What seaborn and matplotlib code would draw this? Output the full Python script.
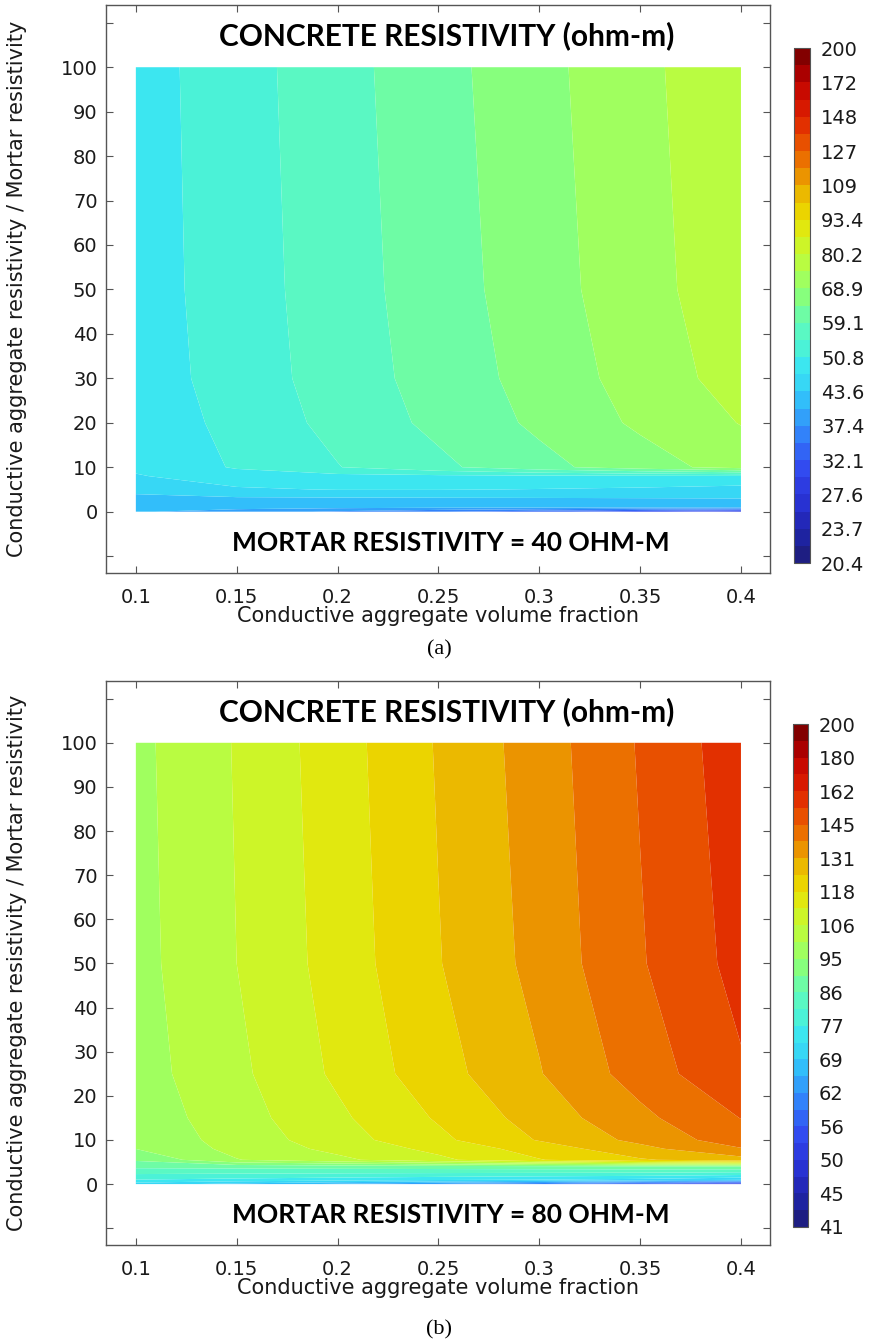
import numpy as np
import matplotlib
matplotlib.use("Agg")
import matplotlib.pyplot as plt
import seaborn as sns

# x axis: conductive aggregate volume fraction
vol_frac = [0.1, 0.15, 0.2, 0.25, 0.3, 0.35, 0.4]

# panel (a): mortar resistivity = 40 ohm-m
ratio_a = [0, 1, 3, 5, 8, 10, 20, 30, 50, 100]
rho_a = [
    [40.8, 39.0, 37.0, 35.0, 33.0, 30.5, 28.0],
    [41.8, 41.6, 41.4, 41.2, 41.1, 41.0, 41.0],
    [43.0, 43.2, 43.3, 43.4, 43.5, 43.6, 43.7],
    [44.4, 46.6, 47.3, 47.3, 47.0, 46.6, 45.8],
    [46.8, 49.3, 49.6, 49.9, 50.1, 50.2, 50.35],
    [47.9, 51.2, 54.7, 58.2, 62.4, 66.6, 71.1],
    [48.3, 52.0, 56.1, 60.3, 64.8, 69.8, 74.6],
    [48.7, 52.6, 56.7, 61.1, 65.7, 71.1, 76.8],
    [49.0, 52.8, 57.1, 61.6, 66.6, 72.2, 78.1],
    [49.1, 53.1, 57.5, 62.2, 67.3, 72.9, 78.9],
]
cbar_a = ["20.4", "23.7", "27.6", "32.1", "37.4", "43.6", "50.8", "59.1",
          "68.9", "80.2", "93.4", "109", "127", "148", "172", "200"]

# panel (b): mortar resistivity = 80 ohm-m
ratio_b = [0, 1, 4, 5.5, 8, 10, 15, 25, 50, 100]
rho_b = [
    [71.0, 68.0, 65.0, 62.0, 59.0, 55.0, 50.0],
    [77.0, 76.0, 75.0, 74.0, 73.0, 72.0, 70.0],
    [87.0, 87.5, 88.0, 88.5, 89.0, 89.5, 90.0],
    [91.0, 100.2, 104.6, 110.3, 117.4, 123.4, 128.0],
    [95.3, 102.0, 107.4, 113.3, 120.5, 128.8, 137.5],
    [96.4, 102.6, 109.0, 116.3, 124.6, 132.7, 142.1],
    [97.2, 103.5, 110.5, 118.4, 127.0, 136.2, 145.7],
    [98.1, 104.6, 112.7, 121.5, 130.5, 141.2, 152.5],
    [98.6, 105.9, 114.1, 123.8, 133.1, 144.8, 156.1],
    [99.0, 106.3, 114.9, 124.7, 134.3, 146.2, 158.1],
]
cbar_b = ["41", "45", "50", "56", "62", "69", "77", "86",
          "95", "106", "118", "131", "145", "162", "180", "200"]

# 30 colour bands of the rainbow table, bottom to top
band_hex = ["#1e1e82", "#1e23a0", "#2328b9", "#2832d2", "#2d3ce1", "#324bf0",
            "#3264f5", "#3282fa", "#32a0fa", "#32befa", "#37d7f5", "#3ce6f0",
            "#4bf2d7", "#5af8c3", "#6efca5", "#87ff7d", "#a0ff5f", "#b9fc41",
            "#cdf528", "#e1e80f", "#ebd400", "#ebb900", "#eb9400", "#eb7000",
            "#e85000", "#e23000", "#d71900", "#c80a00", "#aa0000", "#820000"]
band_colors = sns.color_palette(band_hex)

sns.set_style("ticks")
plt.rcParams['font.family'] = ['DejaVu Sans']
txt = "#1a1a1a"

W, H = 870, 1341
fig = plt.figure(figsize=(W / 100, H / 100), dpi=100)

panels = [
    (ratio_a, rho_a, 20.4, cbar_a, "MORTAR RESISTIVITY = 40 OHM-M", "(a)",
     (106, 5, 770, 573), (794, 48, 810, 563), 650),
    (ratio_b, rho_b, 40.8, cbar_b, "MORTAR RESISTIVITY = 80 OHM-M", "(b)",
     (106, 681, 770, 1245), (793, 724, 808, 1227), 1330),
]

edge = "#555555"
for ratio, rho, vmin, clabels, mortar, tag, box, cbox, tag_y in panels:
    l, t, r, b = box
    ax = fig.add_axes([l / W, 1 - b / H, (r - l) / W, (b - t) / H])
    levels = np.geomspace(vmin, 200, 31)
    cs = ax.contourf(vol_frac, ratio, np.array(rho), levels=levels,
                     colors=band_colors, antialiased=True)
    ax.set_xlim(0.0852, 0.4144)
    ax.set_ylim(-13.8, 114)
    ax.set_xticks([0.1, 0.15, 0.2, 0.25, 0.3, 0.35, 0.4],
                  ["0.1", "0.15", "0.2", "0.25", "0.3", "0.35", "0.4"])
    yt = np.arange(-10, 111, 10)
    ax.set_yticks(yt, ["" if v < 0 or v > 100 else str(v) for v in yt])
    ax.tick_params(direction="in", length=5, width=0.8, color=edge,
                   top=True, right=True, labelsize=14, labelcolor=txt)
    ax.tick_params(axis="x", pad=11)
    ax.tick_params(axis="y", pad=6)
    for s in ax.spines.values():
        s.set_color(edge)
        s.set_linewidth(1.0)
    ax.set_xlabel("Conductive aggregate volume fraction", fontsize=15,
                  labelpad=-1, color=txt)
    ax.set_ylabel("Conductive aggregate resistivity / Mortar resistivity",
                  fontsize=15, labelpad=24, color=txt)
    ax.text(0.254, 107, "CONCRETE RESISTIVITY (ohm-m)", ha="center", va="center",
            fontsize=21.5, fontweight="bold", family="Lato", color="black")
    ax.text(0.256, -7, mortar, ha="center", va="center",
            fontsize=19, fontweight="bold", family="Lato", color="black")
    fig.text(439 / W, 1 - tag_y / H, tag, ha="center", va="center",
             fontsize=16, family="Liberation Serif", color="black")

    cl, ct, cr, cb_ = cbox
    cax = fig.add_axes([cl / W, 1 - cb_ / H, (cr - cl) / W, (cb_ - ct) / H])
    cbar = fig.colorbar(cs, cax=cax)
    cbar.minorticks_off()
    cbar.set_ticks(levels[::2], labels=clabels)
    cax.yaxis.set_minor_locator(matplotlib.ticker.FixedLocator(levels))
    cax.tick_params(which="both", direction="in", left=True, right=True,
                    length=3, width=0.6, color="#333333", labelsize=14,
                    labelcolor=txt, pad=8)
    cbar.outline.set_edgecolor(edge)
    cbar.outline.set_linewidth(0.8)

fig.savefig("out.png", dpi=100)
